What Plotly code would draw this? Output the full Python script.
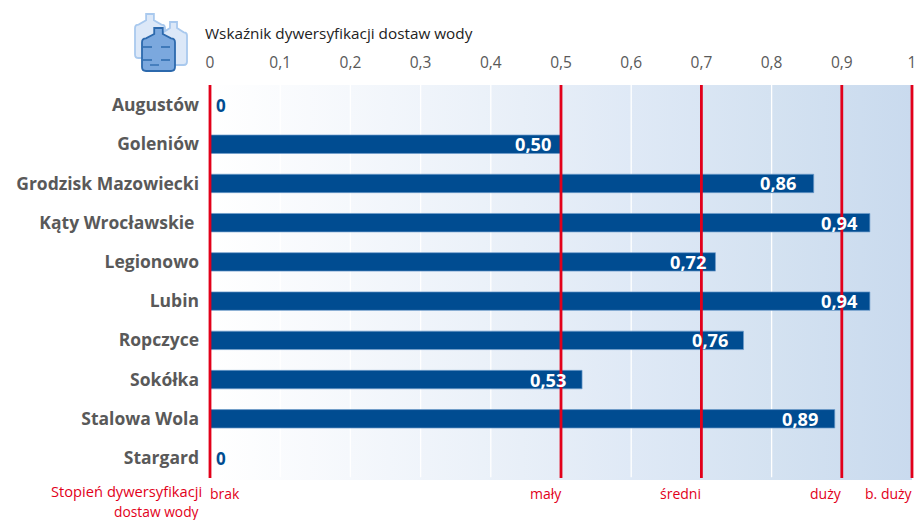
import plotly.graph_objects as go

categories = ["Augustów", "Goleniów", "Grodzisk Mazowiecki", "Kąty Wrocławskie\u00a0", "Legionowo",
              "Lubin", "Ropczyce", "Sokółka", "Stalowa Wola", "Stargard"]
values = [0, 0.50, 0.86, 0.94, 0.72, 0.94, 0.76, 0.53, 0.89, 0]
value_labels = ["0", "0,50", "0,86", "0,94", "0,72", "0,94", "0,76", "0,53", "0,89", "0"]
label_pads = [0, 8, 16, 10, 7, 10, 14, 14, 15, 0]
tick_vals = [0, 0.1, 0.2, 0.3, 0.4, 0.5, 0.6, 0.7, 0.8, 0.9, 1]
tick_text = ["0", "0,1", "0,2", "0,3", "0,4", "0,5", "0,6", "0,7", "0,8", "0,9", "1"]
red_lines = [0, 0.5, 0.7, 0.9, 1]
grid_lines = [0.1, 0.2, 0.3, 0.4, 0.6, 0.8]
degree_pos = [0, 0.5, 0.7, 0.9, 1.0]
degree_text = ["brak", "mały", "średni", "duży", "b. duży"]
degree_anchor = ["left", "right", "right", "right", "right"]
degree_shift = [-2, 3, 2, 2, 3]
gradient_stops = [[0, "#ffffff"], [0.2, "#f5f8fc"], [0.5, "#e5edf7"], [0.6, "#dfe9f6"],
                  [0.8, "#d4e2f1"], [1, "#c9daee"]]

BLUE = "#004c91"
RED = "#e2001a"
GREY = "#595959"
X0, X1 = 210, 912          # pixels of value 0 and value 1
L, R, T, H = 200, 915, 85, 395
UNIT = X1 - X0
x_range = [(L - X0) / UNIT, (R - X0) / UNIT]
row_top, row_bot = -0.51, 9.56


def px(x):
    return (x - L) / (R - L)


def py(y):
    return (T + H - y) / H


def bottle(x0, x1, top, bot):
    cx = (x0 + x1) / 2
    w = x1 - x0
    h = bot - top
    n = w * 0.13
    s = top + h * 0.14
    b = top + h * 0.24
    r = w * 0.12
    pts = f"M{px(cx-n):.5f},{py(top):.5f} L{px(cx+n):.5f},{py(top):.5f} L{px(cx+n):.5f},{py(s):.5f} "
    pts += f"L{px(x1-r):.5f},{py(b):.5f} Q{px(x1):.5f},{py(b):.5f} {px(x1):.5f},{py(b+r):.5f} "
    pts += f"L{px(x1):.5f},{py(bot-r):.5f} Q{px(x1):.5f},{py(bot):.5f} {px(x1-r):.5f},{py(bot):.5f} "
    pts += f"L{px(x0+r):.5f},{py(bot):.5f} Q{px(x0):.5f},{py(bot):.5f} {px(x0):.5f},{py(bot-r):.5f} "
    pts += f"L{px(x0):.5f},{py(b+r):.5f} Q{px(x0):.5f},{py(b):.5f} {px(x0+r):.5f},{py(b):.5f} "
    pts += f"L{px(cx-n):.5f},{py(s):.5f} Z"
    return pts


fig = go.Figure()
fig.add_trace(go.Scatter(x=[0, 1, 1, 0], y=[row_top, row_top, row_bot, row_bot], fill="toself",
                         mode="none", fillgradient=dict(type="horizontal", colorscale=gradient_stops),
                         hoverinfo="skip", showlegend=False))
for g in grid_lines:
    fig.add_trace(go.Scatter(x=[g, g], y=[row_top, 9.49], mode="lines",
                             line=dict(color="#ffffff", width=1.3), hoverinfo="skip", showlegend=False))

rows = list(range(len(categories)))
fig.add_trace(go.Bar(x=values, y=rows, orientation="h", width=0.47,
                     marker=dict(color=BLUE, line=dict(color="#6f9ccb", width=0.7)),
                     xaxis="x2", yaxis="y2", showlegend=False))

shapes = []
for r in red_lines:
    shapes.append(dict(type="line", xref="x", yref="paper", x0=r, x1=r, y0=py(478), y1=1,
                       line=dict(color=RED, width=2.8), layer="above"))
bottles = [(135, 165, 14, 58, "#dce8f8", "#a9c9ee"),
           (160, 187, 22, 65, "#dce8f8", "#a9c9ee"),
           (142, 175, 28, 71, "#7ba8de", "#2c69ad")]
for x0, x1, t, b, fc, lc in bottles:
    shapes.append(dict(type="path", xref="paper", yref="paper", path=bottle(x0, x1, t, b),
                       fillcolor=fc, line=dict(color=lc, width=1.8), layer="above"))
for yy, a, c in [(47, 143, 174), (60, 143, 174), (65, 150, 168)]:
    shapes.append(dict(type="line", xref="paper", yref="paper", x0=px(a), x1=px(c), y0=py(yy), y1=py(yy),
                       line=dict(color="#2c69ad", width=1.3, dash="dash"), layer="above"))

ann = []
for i, (v, t, p) in enumerate(zip(values, value_labels, label_pads)):
    if v == 0:
        ann.append(dict(x=v, y=i, xref="x2", yref="y2", text=f"<b>{t}</b>", showarrow=False, xanchor="left",
                        xshift=4, font=dict(family="Open Sans", size=17, color=BLUE)))
    else:
        ann.append(dict(x=v, y=i, xref="x2", yref="y2", text=f"<b>{t}</b>", showarrow=False, xanchor="right",
                        xshift=-p, font=dict(family="Open Sans", size=18.2, color="#ffffff")))
for xp, t, a, s in zip(degree_pos, degree_text, degree_anchor, degree_shift):
    ann.append(dict(x=xp, y=py(493), xref="x", yref="paper", text=t, showarrow=False, xanchor=a, yanchor="middle",
                    xshift=s, font=dict(family="Open Sans", size=14, color=RED)))
ann.append(dict(x=px(203), y=py(491), xref="paper", yref="paper", text="Stopień dywersyfikacji", showarrow=False,
                xanchor="right", yanchor="middle", borderpad=0, font=dict(family="Open Sans", size=14.7, color=RED)))
ann.append(dict(x=px(200), y=py(511), xref="paper", yref="paper", text="dostaw wody", showarrow=False,
                xanchor="right", yanchor="middle", borderpad=0, font=dict(family="Open Sans", size=13.8, color=RED)))
ann.append(dict(x=px(203), y=py(33), xref="paper", yref="paper", text="Wskaźnik dywersyfikacji dostaw wody",
                showarrow=False, xanchor="left", yanchor="middle",
                font=dict(family="Open Sans", size=15.3, color="#222222")))

fig.update_layout(
    width=915, height=520, autosize=False, margin=dict(l=L, r=0, t=T, b=520 - T - H),
    paper_bgcolor="#ffffff", plot_bgcolor="rgba(0,0,0,0)", shapes=shapes, annotations=ann,
    xaxis=dict(side="top", range=x_range, tickvals=tick_vals, ticktext=tick_text, showgrid=False, zeroline=False,
               ticks="outside", ticklen=10, tickcolor="rgba(0,0,0,0)", fixedrange=True, ticklabeloverflow="allow",
               tickfont=dict(family="Open Sans", size=15.5, color=GREY)),
    yaxis=dict(range=[row_bot, row_top], tickvals=rows, ticktext=[f"<b>{c}</b>" for c in categories], showgrid=False,
               zeroline=False, ticks="", fixedrange=True,
               tickfont=dict(family="Open Sans", size=17.5, color=GREY)),
    xaxis2=dict(overlaying="x", range=x_range, visible=False, fixedrange=True),
    yaxis2=dict(overlaying="y", range=[row_bot, row_top], visible=False, fixedrange=True),
)
fig.write_html("out.html", config=dict(displayModeBar=False), post_script="document.body.style.margin='0';")
